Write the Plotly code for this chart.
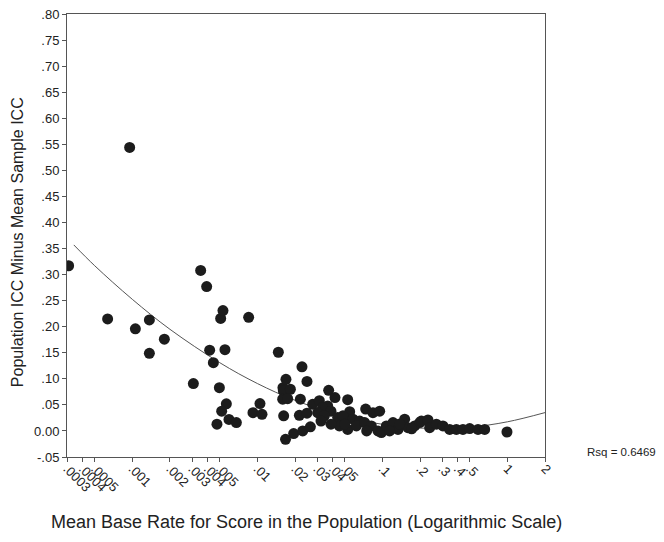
import plotly.graph_objects as go

# Scatter data: mean base rate (x, log scale) vs population ICC minus mean sample ICC (y)
base_rate = [
    0.000309, 0.000634, 0.000951, 0.001057, 0.001368, 0.001368, 0.001803, 0.003076,
    0.003519, 0.00393, 0.004153, 0.004446, 0.004966, 0.005087, 0.005306, 0.005505,
    0.005649, 0.005182, 0.004751, 0.005927, 0.006792, 0.008517, 0.009222, 0.01049,
    0.01089, 0.01472, 0.01602, 0.01693, 0.01614, 0.01837, 0.01594, 0.01747,
    0.01623, 0.01680, 0.01951, 0.02304, 0.02655, 0.02208, 0.02274, 0.02494,
    0.02168, 0.02494, 0.02770, 0.03133, 0.03719, 0.04176, 0.05277, 0.03651,
    0.03330, 0.03880, 0.03037, 0.03436, 0.03228, 0.04390, 0.04966, 0.05277,
    0.04529, 0.03880, 0.05475, 0.04840, 0.05820, 0.06584, 0.04994, 0.06194,
    0.07218, 0.07353, 0.08411, 0.09515, 0.08166, 0.09222, 0.09817, 0.1076,
    0.1216, 0.1333, 0.1508, 0.1602, 0.1813, 0.1988, 0.2051, 0.2316,
    0.2390, 0.2704, 0.3053, 0.3455, 0.3908, 0.4413, 0.4994, 0.5820,
    0.6584, 0.9926, 0.07489, 0.1144, 0.1375, 0.1715,
]
icc_diff = [
    0.317, 0.215, 0.544, 0.196, 0.213, 0.149, 0.176, 0.091,
    0.308, 0.277, 0.155, 0.131, 0.083, 0.216, 0.231, 0.156,
    0.052, 0.038, 0.013, 0.022, 0.016, 0.218, 0.035, 0.0525,
    0.032, 0.151, 0.083, 0.099, 0.077, 0.080, 0.061, 0.062,
    0.029, -0.016, -0.005, 0.000, 0.008, 0.061, 0.123, 0.095,
    0.030, 0.034, 0.051, 0.058, 0.078, 0.064, 0.060, 0.048,
    0.045, 0.038, 0.035, 0.029, 0.019, 0.026, 0.0225, 0.003,
    0.0096, 0.013, 0.037, 0.029, 0.0225, 0.019, 0.013, 0.0096,
    0.016, 0.042, 0.035, 0.038, 0.0096, 0.000, -0.003, 0.0096,
    0.016, 0.003, 0.0225, 0.0063, 0.0096, 0.016, 0.019, 0.021,
    0.0063, 0.013, 0.0096, 0.003, 0.003, 0.003, 0.0045, 0.003,
    0.003, -0.002, 0.000, 0.000, 0.0135, 0.004,
]

# Quadratic fit line
fit_x = [0.00034, 0.0005, 0.001, 0.002, 0.005, 0.01, 0.02, 0.05, 0.1, 0.2, 0.5, 1, 2]
fit_y = [0.357, 0.317, 0.2525, 0.195, 0.131, 0.091, 0.0588, 0.0276, 0.0128, 0.0055, 0.0074, 0.0175, 0.0352]

x_tickvals = [0.0003, 0.0004, 0.0005, 0.001, 0.002, 0.003, 0.004, 0.005, 0.01, 0.02,
              0.03, 0.04, 0.05, 0.1, 0.2, 0.3, 0.4, 0.5, 1, 2]
x_ticktext = [".0003", ".0004", ".0005", ".001", ".002", ".003", ".004", ".005", ".01", ".02",
              ".03", ".04", ".05", ".1", ".2", ".3", ".4", ".5", "1", "2"]
y_tickvals = [-0.05, 0.0, 0.05, 0.10, 0.15, 0.20, 0.25, 0.30, 0.35, 0.40, 0.45, 0.50,
              0.55, 0.60, 0.65, 0.70, 0.75, 0.80]
y_ticktext = ["-.05", "0.00", ".05", ".10", ".15", ".20", ".25", ".30", ".35", ".40", ".45", ".50",
              ".55", ".60", ".65", ".70", ".75", ".80"]

x_title = "Mean Base Rate for Score in the Population (Logarithmic Scale)"
y_title = "Population ICC Minus Mean Sample ICC"
rsq_text = "Rsq = 0.6469"

FONT = "Liberation Sans, Arial, sans-serif"

fig = go.Figure()
fig.add_trace(go.Scatter(
    x=fit_x, y=fit_y, mode="lines", line=dict(color="#555555", width=1, shape="spline"),
    hoverinfo="skip", showlegend=False))
fig.add_trace(go.Scatter(
    x=base_rate, y=icc_diff, mode="markers",
    marker=dict(size=11, color="#1c1c1c", line=dict(width=0)), showlegend=False))

axis_common = dict(showline=True, linecolor="#555555", linewidth=1, mirror=True,
                   ticks="outside", ticklen=4, tickcolor="#555555", showgrid=False,
                   zeroline=False, ticklabeloverflow="allow", automargin=False,
                   tickfont=dict(family=FONT, size=13, color="#222222"))

fig.update_xaxes(type="log", range=[-3.5229, 0.30103], tickvals=x_tickvals,
                 ticktext=x_ticktext, tickangle=45, ticklabelstandoff=-6, **axis_common)
fig.update_yaxes(range=[-0.05, 0.8001], tickvals=y_tickvals, ticktext=y_ticktext,
                 **axis_common)

fig.add_annotation(text=x_title, xref="paper", yref="paper", x=0.5, y=-0.1467,
                   xanchor="center", yanchor="middle", showarrow=False,
                   font=dict(family=FONT, size=18, color="#222222"))
fig.add_annotation(text=y_title, xref="paper", yref="paper", x=-0.1045, y=0.485,
                   xanchor="center", yanchor="middle", textangle=-90, showarrow=False,
                   font=dict(family=FONT, size=16, color="#222222"))
fig.add_annotation(text=rsq_text, xref="paper", yref="paper", x=1.083, y=0.0113,
                   xanchor="left", yanchor="middle", showarrow=False,
                   font=dict(family=FONT, size=11.5, color="#222222"))

fig.update_layout(width=656, height=534, margin=dict(l=59, r=118.5, t=6, b=85),
                  plot_bgcolor="white", paper_bgcolor="white")

fig.write_html("out.html")
